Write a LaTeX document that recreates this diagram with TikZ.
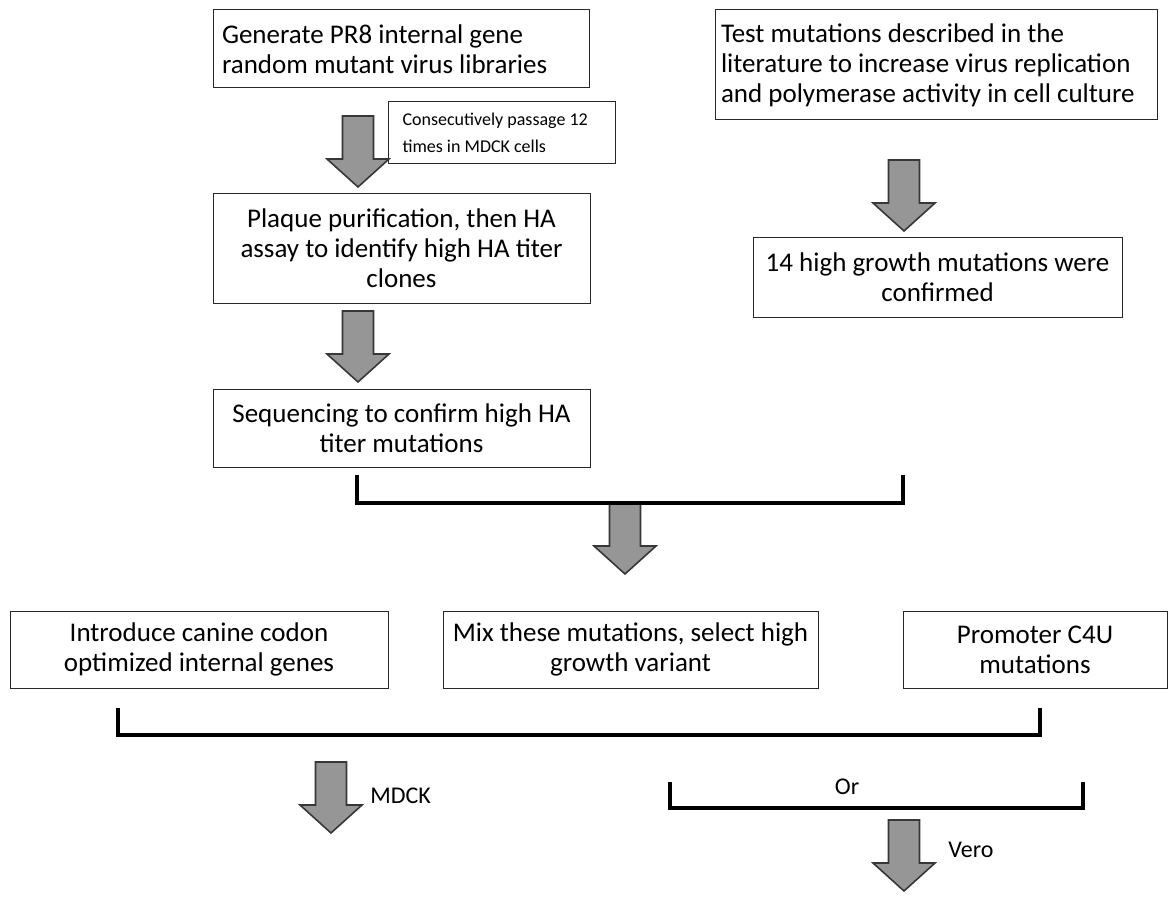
\documentclass[tikz,border=0pt]{standalone}
\usepackage{fontspec}
\setmainfont{Carlito}
\usetikzlibrary{positioning}
\definecolor{colBorder}{RGB}{40,40,40}
\definecolor{colFill}{RGB}{150,150,150}
\definecolor{colEdge}{RGB}{55,55,55}
\tikzset{
  box/.style={
    rectangle, draw=colBorder, line width=0.5pt,
    align=center, inner sep=0pt,
    font=\fontsize{13.5}{15}\selectfont
  },
  leftBox/.style={box, align=flush left, inner xsep=4.5pt},
  noteBox/.style={box, align=flush left, anchor=north west, inner xsep=7pt,
    text width=99.5pt, minimum height=31pt,
    font=\fontsize{9}{13.5}\selectfont},
  blockArr/.pic={
    \draw[draw=colEdge, fill=colFill, line width=0.8pt, line join=miter]
      (-15.5,0) -- (15.5,0) -- (15.5,43) -- (31,43) -- (0,71)
      -- (-31,43) -- (-15.5,43) -- cycle;
  },
  bracket/.style={line width=1.8pt, draw=black, line join=miter},
  lbl/.style={font=\fontsize{12}{14}\selectfont, inner sep=0pt},
}

\begin{document}
\begin{tikzpicture}[x=0.5pt, y=-0.5pt]
\useasboundingbox (0,0) rectangle (1172,899);

% ---- Left column ----------------------------------------------
\node[leftBox, text width=179pt, minimum height=39pt] (gen) at (401,49)
  {Generate PR8 internal gene\\random mutant virus libraries};
\node[noteBox] (passage) at (388,101)
  {Consecutively passage 12\\times in MDCK cells};
\node[box, minimum width=188.5pt, minimum height=55pt] (plaque) at (401.5,248)
  {Plaque purification, then HA\\assay to identify high HA titer\\clones};
\node[box, minimum width=188.5pt, minimum height=39pt] (seq) at (401.5,428)
  {Sequencing to confirm high HA\\titer mutations};

% ---- Right column ---------------------------------------------
\node[leftBox, inner xsep=3pt, text width=215pt, minimum height=55pt] (test) at (936,65)
  {Test mutations described in the\\literature to increase virus replication\\and polymerase activity in cell culture};
\node[box, minimum width=184.5pt, minimum height=40pt] (conf) at (937.5,277)
  {14 high growth mutations were\\confirmed};

% ---- Middle row -----------------------------------------------
\node[box, minimum width=189pt, minimum height=38.5pt] (intro) at (199,649.5)
  {Introduce canine codon\\optimized internal genes};
\node[box, minimum width=187.5pt, minimum height=38.5pt] (mix) at (630.5,649.5)
  {Mix these mutations, select high\\growth variant};
\node[box, minimum width=132pt, minimum height=38.5pt] (prom) at (1035,649.5)
  {Promoter C4U\\mutations};

% ---- Block arrows ---------------------------------------------
\pic (a1) at (358,116) {blockArr};
\pic (a2) at (358,311) {blockArr};
\pic (a3) at (904,160) {blockArr};
\pic (a4) at (625,503) {blockArr};
\pic (a5) at (331,762) {blockArr};
\pic (a6) at (904,820) {blockArr};

% ---- Brackets -------------------------------------------------
\coordinate (b1L) at (357,475);  \coordinate (b1M) at (630,503);  \coordinate (b1R) at (903,475);
\coordinate (b2L) at (118,708);  \coordinate (b2M) at (579,735);  \coordinate (b2R) at (1040,708);
\coordinate (b3L) at (670,782);  \coordinate (b3M) at (876,808);  \coordinate (b3R) at (1083,782);
\draw[bracket] (b1L) |- (b1M) -| (b1R);
\draw[bracket] (b2L) |- (b2M) -| (b2R);
\draw[bracket] (b3L) |- (b3M) -| (b3R);

% ---- Labels ---------------------------------------------------
\node[lbl, anchor=west] (mdck) at (370,796) {MDCK};
\node[lbl] (orLbl) at (847,787) {Or};
\node[lbl, anchor=west] (vero) at (948,850) {Vero};

\end{tikzpicture}
\end{document}
